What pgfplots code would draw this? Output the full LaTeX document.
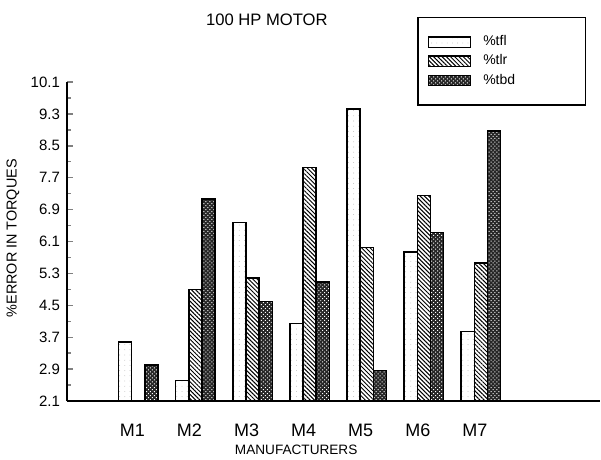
\documentclass[border=0pt]{standalone}
\usepackage{pgfplots}
\usepackage{pgfplotstable}
\pgfplotsset{compat=1.18}
\usepackage{fontspec}
\setmainfont{Liberation Sans}
\usetikzlibrary{patterns.meta}

\pgfplotsset{
  barleg/.style={legend image code/.code={\draw[##1] (0pt,-2.6pt) rectangle (21pt,2.6pt);}},
}

\pgfplotstableread{
x tfl tlr tbd
1 3.58 nan 3.00
2 2.61 4.89 7.17
3 6.57 5.18 4.59
4 4.05 7.96 5.08
5 9.42 5.95 2.87
6 5.84 7.25 6.33
7 3.85 5.56 8.87
}\torques

\begin{document}
\begin{tikzpicture}
\begin{axis}[
  scale only axis, width=266.5pt, height=159.5pt,
  xmin=-0.25, xmax=9.087, ymin=2.1, ymax=10.1,
  axis lines*=left, axis line style={line width=0.8pt},
  ybar=0pt, bar width=0.23,
  xtick={1,...,7}, xticklabels={M1,M2,M3,M4,M5,M6,M7},
  xtick style={draw=none},
  x tick label style={font=\fontsize{9}{10}\selectfont, yshift=-8pt, xshift=-3pt},
  ytick={2.1,2.9,3.7,4.5,5.3,6.1,6.9,7.7,8.5,9.3,10.1},
  yticklabel={\pgfmathprintnumber[fixed,fixed zerofill,precision=1,assume math mode=true]{\tick}},
  y tick label style={font=\fontsize{7.5}{8}\selectfont},
  minor y tick num=1,
  tick align=inside, major tick length=3pt, minor tick length=2pt,
  y tick style={line width=0.7pt},
  title={100 HP MOTOR},
  title style={at={(axis description cs:0.375,1.156)}, anchor=center, font=\fontsize{8.3}{9}\selectfont},
  xlabel={MANUFACTURERS},
  xlabel style={at={(axis description cs:0.43,0)}, anchor=center, yshift=-24.5pt, font=\fontsize{6.8}{7}\selectfont},
  ylabel={\%ERROR IN TORQUES},
  ylabel style={at={(axis description cs:0,0.51)}, anchor=center, xshift=0pt, yshift=27pt, font=\fontsize{7.2}{8}\selectfont},
  legend style={at={(axis description cs:0.657,1.204)}, anchor=north west,
    draw=black, line width=0.7pt, inner xsep=5pt, inner ysep=8pt,
    font=\fontsize{7}{8}\selectfont, row sep=1pt,
    nodes={inner sep=1pt}},
  legend cell align=left,
]
\addplot[draw=black, line width=0.7pt, fill=white,
  postaction={pattern={Dots[distance=2.6pt, radius=0.2pt]}, pattern color=gray!70}, barleg]
  table[x=x, y=tfl] {\torques};
\addplot[draw=black, line width=0.7pt, fill=white,
  postaction={pattern={Lines[angle=-45, distance=1.5pt, line width=0.5pt]}}, barleg]
  table[x=x, y=tlr] {\torques};
\addplot[draw=black, line width=0.7pt, fill=black!85,
  postaction={pattern={Dots[angle=45, distance=1.4pt, radius=0.35pt]}, pattern color=white}, barleg]
  table[x=x, y=tbd] {\torques};
\legend{\makebox[50pt][l]{\hspace{5pt}\%tfl}, \makebox[50pt][l]{\hspace{5pt}\%tlr}, \makebox[50pt][l]{\hspace{5pt}\%tbd}}
\end{axis}
\pgfresetboundingbox
\path ([xshift=-33.5pt,yshift=-29pt]current axis.south west) rectangle ([xshift=0.5pt,yshift=41pt]current axis.north east);
\end{tikzpicture}
\end{document}
